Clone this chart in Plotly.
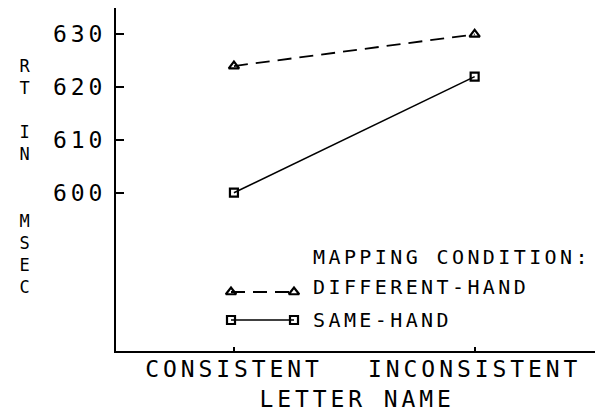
import plotly.graph_objects as go

categories = ["CONSISTENT", "INCONSISTENT"]
different_hand = [624, 630]
same_hand = [600, 622]
y_ticks = [600, 610, 620, 630]
series_names = ["DIFFERENT-HAND", "SAME-HAND"]
legend_title = "MAPPING CONDITION:"
x_title = "LETTER NAME"
y_title_letters = ["R", "T", "", "I", "N", "", "", "M", "S", "E", "C"]

FONT = "DejaVu Sans Mono"
W, H = 605, 416
L, R, T, B = 116, 10, 8, 65
PW, PH = W - L - R, H - T - B


def px(x):
    return (x - L) / PW


def py(y):
    return (H - B - y) / PH


dash_line = dict(color="black", width=1.8, dash="14px,8px")
solid_line = dict(color="black", width=1.6)
tri_marker = dict(symbol="triangle-up-open", size=9, color="black", line=dict(width=2.2, color="black"))
sq_marker = dict(symbol="square-open", size=8, color="black", line=dict(width=2.2, color="black"))

fig = go.Figure()

fig.add_trace(go.Scatter(
    x=categories, y=different_hand, mode="lines+markers", name=series_names[0],
    line=dash_line, marker=tri_marker, showlegend=False, hoverinfo="skip"))
fig.add_trace(go.Scatter(
    x=categories, y=same_hand, mode="lines+markers", name=series_names[1],
    line=solid_line, marker=sq_marker, showlegend=False, hoverinfo="skip"))

# legend keys on an invisible overlay axis measured in pixels of the page
key_x = [231, 294]
for ky, ln, mk in [(292, dash_line, tri_marker), (320, solid_line, sq_marker)]:
    fig.add_trace(go.Scatter(x=key_x, y=[ky, ky], mode="lines+markers", line=ln, marker=mk,
                             xaxis="x2", yaxis="y2", showlegend=False, hoverinfo="skip",
                             cliponaxis=False))

annotations = []
for text, ty in [(legend_title, 257), (series_names[0], 287), (series_names[1], 320)]:
    annotations.append(dict(text=text, x=px(311), y=py(ty), xref="paper", yref="paper",
                            xanchor="left", yanchor="middle", align="left", showarrow=False,
                            font=dict(family=FONT, size=20, color="black")))
annotations.append(dict(text="<br>".join(y_title_letters), x=px(26), y=py(176),
                        xref="paper", yref="paper",
                        xanchor="center", yanchor="middle", align="center", showarrow=False,
                        font=dict(family=FONT, size=17, color="black")))
annotations.append(dict(text=x_title, x=px(357), y=py(399), xref="paper", yref="paper",
                        xanchor="center", yanchor="middle", showarrow=False,
                        font=dict(family=FONT, size=23, color="black")))

fig.update_layout(
    width=W, height=H,
    margin=dict(l=L, r=R, t=T, b=B, autoexpand=False),
    paper_bgcolor="white", plot_bgcolor="white",
    font=dict(family=FONT, color="black"),
    showlegend=False,
    xaxis=dict(type="category", categoryorder="array", categoryarray=categories,
               range=[-0.49, 1.5], showgrid=False, zeroline=False, automargin=False,
               showline=True, linecolor="black", linewidth=2,
               ticks="inside", ticklen=4, tickwidth=1.5, tickcolor="black",
               ticklabelstandoff=-4,
               tickfont=dict(family=FONT, size=23, color="black")),
    yaxis=dict(range=[570, 635], tickvals=y_ticks, showgrid=False, zeroline=False,
               automargin=False,
               showline=True, linecolor="black", linewidth=2,
               ticks="inside", ticklen=8, tickwidth=1.5, tickcolor="black",
               ticklabelstandoff=3,
               tickfont=dict(family=FONT, size=23, color="black")),
    xaxis2=dict(domain=[0, 1], range=[L, L + PW], overlaying="x", visible=False,
                fixedrange=True),
    yaxis2=dict(domain=[0, 1], range=[T + PH, T], overlaying="y", visible=False,
                fixedrange=True),
    annotations=annotations,
)

post = """
(function(){
  document.documentElement.style.margin='0';
  document.body.style.margin='0';
  document.body.style.padding='0';
  document.body.style.overflow='hidden';
  function ls(){
    document.querySelectorAll('.main-svg text').forEach(function(t){
      t.style.letterSpacing='0.17em';
    });
  }
  ls(); setTimeout(ls, 50); setTimeout(ls, 300);
  var gd=document.getElementById('{plot_id}');
  if(gd && gd.on){gd.on('plotly_afterplot', ls);}
})();
"""
fig.write_html("out.html", post_script=post, config={"displayModeBar": False})
